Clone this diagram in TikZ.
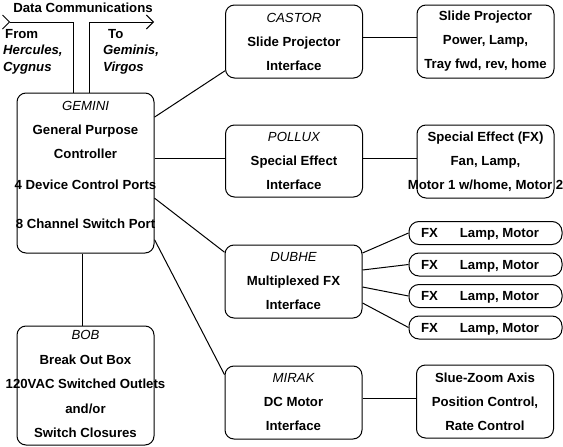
\documentclass[tikz,border=0pt]{standalone}
\usepackage{fontspec}
\setmainfont{Liberation Sans}
\usetikzlibrary{arrows.meta,positioning}
\newcommand{\unitname}[1]{{\mdseries\itshape #1}}

\begin{document}
\begin{tikzpicture}[x=1pt,y=-1pt,
  unit/.style={draw,line width=1pt,rounded corners=9pt,minimum width=137pt,minimum height=73pt,inner sep=0pt},
  fxunit/.style={draw,line width=1pt,rounded corners=10pt,minimum width=153pt,minimum height=23pt,inner sep=0pt},
  txt/.style={font=\fontsize{13.2}{24}\selectfont\bfseries,align=center,inner sep=0pt},
  oneline/.style={txt,text height=9.5pt,text depth=2.5pt,yshift=-1pt},
  conn/.style={line width=1pt},
  bus/.style={line width=1pt,-{Straight Barb[length=7pt,width=14pt]}}
]
  \useasboundingbox (0,0) rectangle (563,447);

  % Gemini controller
  \node[unit,minimum height=160pt] (gemini) at (85.5,173) {};
  \node[txt] (geminitxt) at (85.5,129.5) {\unitname{GEMINI}\\General Purpose\\Controller};
  \node[oneline] (ports) at (85.5,185) {4 Device Control Ports};
  \node[oneline] (switch) at (85.5,224) {8 Channel Switch Port};

  % Break out box
  \node[unit,minimum height=119pt] (bob) at (85.5,385.5) {};
  \node[txt,font=\fontsize{13.2}{24.5}\selectfont\bfseries] (bobtxt) at (85.5,384) {\unitname{BOB}\\Break Out Box\\120VAC Switched Outlets\\and/or\\Switch Closures};

  % Interfaces
  \node[unit] (castor) at (294,41.5) {};
  \node[txt] (castortxt) at (castor.center) {\unitname{CASTOR}\\Slide Projector\\Interface};
  \node[unit,minimum height=72pt] (pollux) at (294,161) {};
  \node[txt] (polluxtxt) at (pollux.center) {\unitname{POLLUX}\\Special Effect\\Interface};
  \node[unit] (dubhe) at (293.5,281.5) {};
  \node[txt] (dubhetxt) at (dubhe.center) {\unitname{DUBHE}\\Multiplexed FX\\Interface};
  \node[unit] (mirak) at (293.5,402.5) {};
  \node[txt] (miraktxt) at (mirak.center) {\unitname{MIRAK}\\DC Motor\\Interface};

  % Devices
  \node[unit] (slide) at (485.5,41.5) {};
  \node[txt] (slidetxt) at (slide.center) {Slide Projector\\Power, Lamp,\\Tray fwd, rev, home};
  \node[unit] (fxdev) at (485.5,161.5) {};
  \node[txt] (fxdevtxt) at (fxdev.center) {Special Effect (FX)\\Fan, Lamp,\\Motor 1 w/home, Motor 2};
  \node[unit] (slue) at (485,401.5) {};
  \node[txt] (sluetxt) at (slue.center) {Slue-Zoom Axis\\Position Control,\\Rate Control};
  \foreach \i in {1,...,4} {
    \node[fxunit] (fx\i) at (485.5,{233+31.5*(\i-1)}) {};
    \node[oneline] (fxa\i) at (429.5,{233+31.5*(\i-1)}) {FX};
    \node[oneline] (fxb\i) at (499.5,{233+31.5*(\i-1)}) {Lamp, Motor};
  }

  % Data communications
  \node[oneline] (datacomm) at (83,8) {Data Communications};
  \node[txt,align=left,anchor=north west,font=\fontsize{13.2}{16.5}\selectfont\bfseries] (fromtxt) at (3,29) {\hspace{2pt}From\\\textit{Hercules,}\\\textit{Cygnus}};
  \node[txt,align=left,anchor=north west,font=\fontsize{13.2}{16.5}\selectfont\bfseries] (totxt) at (103,29) {\hspace{5pt}To\\\textit{Geminis,}\\\textit{Virgos}};
  \coordinate (dcin) at (2,22);
  \coordinate (dcout) at (154,22);
  \draw[conn,-{Straight Barb[reversed,length=7pt,width=14pt]}] ([xshift=-12.5pt]gemini.north) |- (dcin);
  \draw[bus] ([xshift=3.5pt]gemini.north) |- (dcout);

  % Connections
  \draw[conn] (gemini.39) -- (castor.203);
  \draw[conn] ([yshift=15pt]gemini.east) -- ([yshift=3pt]pollux.west);
  \draw[conn] (gemini.-20) -- (dubhe.157);
  \draw[conn] (gemini.-44) -- (mirak.158);
  \draw[conn] ([xshift=-3.5pt]gemini.south) -- ([xshift=-3.5pt]bob.north);
  \draw[conn] ([yshift=4.5pt]castor.east) -- ([yshift=4.5pt]slide.west);
  \draw[conn] ([yshift=3pt]pollux.east) -- ([yshift=3.5pt]fxdev.west);
  \draw[conn] ([yshift=4.5pt]mirak.east) -- ([yshift=3.5pt]slue.west);
  \foreach \i/\s in {1/28.5,2/11.5,3/-5.5,4/-21.5}
    \draw[conn] ([yshift=\s pt]dubhe.east) -- (fx\i.west);
\end{tikzpicture}
\end{document}
